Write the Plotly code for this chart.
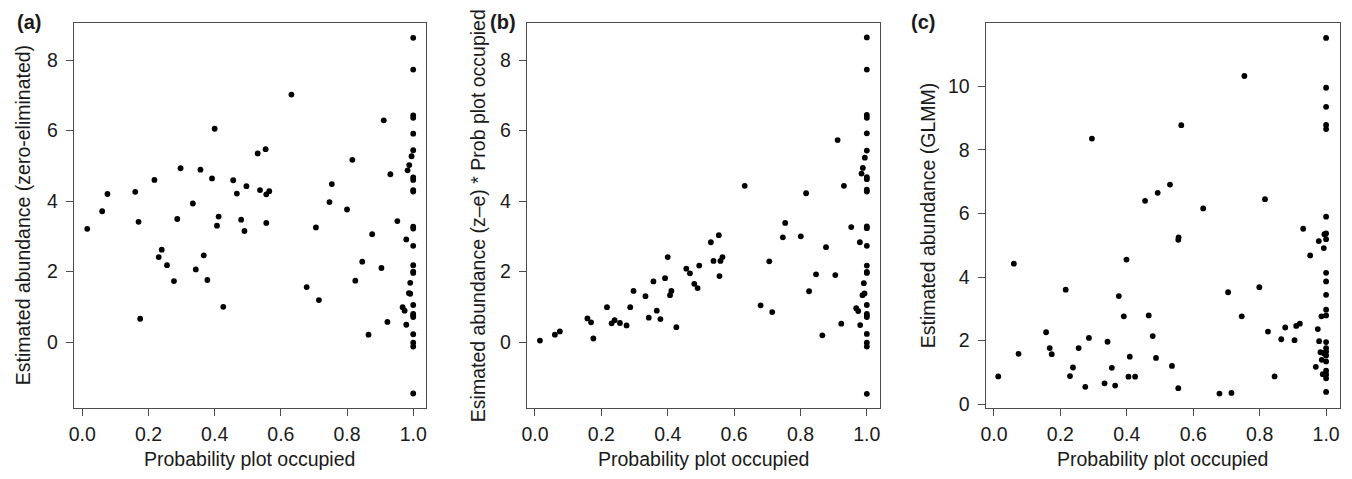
import plotly.graph_objects as go

W, H = 1352, 479

# ---------------- data ----------------
col_a = [8.63, 7.73, 6.43, 6.36, 5.91, 5.44, 4.67, 4.60, 4.31, 4.27, 3.27, 3.22,
         2.73, 2.18, 2.00, 1.96, 1.05, 0.80, 0.76, 0.71, 0.22, -0.02, -0.13, -1.46]
a_x = [0.015, 0.06, 0.076, 0.16, 0.17, 0.175, 0.218, 0.231, 0.24, 0.256, 0.277, 0.287,
       0.297, 0.334, 0.343, 0.357, 0.367, 0.378, 0.392, 0.40, 0.407, 0.412, 0.426, 0.456,
       0.467, 0.48, 0.49, 0.496, 0.53, 0.537, 0.554, 0.556, 0.556, 0.565, 0.632, 0.678,
       0.706, 0.715, 0.747, 0.754, 0.80, 0.816, 0.825, 0.846, 0.865, 0.876, 0.904, 0.911,
       0.922, 0.931, 0.952, 0.968, 0.974, 0.979, 0.979, 0.983, 0.988, 0.987, 0.991, 0.991,
       0.995] + [1.0] * len(col_a)
a_y = [3.21, 3.71, 4.20, 4.26, 3.41, 0.66, 4.60, 2.41, 2.62, 2.18, 1.73, 3.49,
       4.93, 3.93, 2.06, 4.89, 2.46, 1.76, 4.64, 6.05, 3.30, 3.56, 1.00, 4.59,
       4.21, 3.47, 3.15, 4.42, 5.35, 4.31, 5.47, 4.19, 3.38, 4.28, 7.02, 1.56,
       3.25, 1.19, 3.97, 4.48, 3.76, 5.17, 1.74, 2.28, 0.21, 3.06, 2.10, 6.29,
       0.57, 4.76, 3.43, 0.99, 0.89, 2.91, 0.49, 4.87, 5.02, 1.39, 1.68, 1.37,
       5.27] + col_a

col_b = [8.64, 7.73, 6.44, 6.36, 5.92, 5.43, 4.68, 4.62, 4.32, 4.27, 3.28, 3.23,
         2.73, 2.17, 1.99, 1.96, 1.05, 0.80, 0.75, 0.71, 0.23, -0.02, -0.13, -1.47]
b_x = [0.015, 0.06, 0.075, 0.158, 0.169, 0.176, 0.217, 0.231, 0.24, 0.256, 0.276, 0.287,
       0.297, 0.333, 0.343, 0.357, 0.367, 0.378, 0.392, 0.40, 0.407, 0.411, 0.426, 0.456,
       0.467, 0.48, 0.49, 0.495, 0.53, 0.538, 0.554, 0.556, 0.559, 0.565, 0.632, 0.68,
       0.706, 0.715, 0.747, 0.754, 0.801, 0.817, 0.826, 0.847, 0.866, 0.877, 0.905, 0.912,
       0.923, 0.931, 0.953, 0.968, 0.974, 0.979, 0.98, 0.984, 0.988, 0.987, 0.991, 0.993,
       0.994] + [1.0] * len(col_b)
b_y = [0.04, 0.21, 0.30, 0.67, 0.56, 0.10, 0.99, 0.53, 0.62, 0.54, 0.47, 0.99,
       1.45, 1.30, 0.69, 1.72, 0.89, 0.65, 1.81, 2.41, 1.33, 1.45, 0.42, 2.08,
       1.95, 1.65, 1.53, 2.17, 2.83, 2.30, 3.03, 1.87, 2.30, 2.41, 4.43, 1.04,
       2.29, 0.85, 2.97, 3.38, 3.00, 4.22, 1.44, 1.92, 0.19, 2.69, 1.90, 5.73,
       0.52, 4.43, 3.26, 0.96, 0.88, 2.83, 0.48, 4.78, 4.94, 1.33, 1.67, 1.38,
       5.23] + col_b

col_c = [11.53, 9.96, 9.36, 8.79, 8.66, 5.90, 5.37, 5.19, 4.13, 3.86, 3.44, 2.97,
         2.79, 1.95, 1.76, 1.65, 1.53, 1.34, 1.05, 0.93, 0.81, 0.38]
c_x = [0.013, 0.06, 0.074, 0.157, 0.168, 0.174, 0.216, 0.229, 0.238, 0.255, 0.275, 0.286,
       0.295, 0.333, 0.342, 0.355, 0.365, 0.376, 0.391, 0.399, 0.405, 0.409, 0.425, 0.455,
       0.466, 0.478, 0.488, 0.493, 0.53, 0.536, 0.555, 0.555, 0.556, 0.564, 0.63, 0.679,
       0.705, 0.715, 0.746, 0.754, 0.799, 0.816, 0.825, 0.845, 0.865, 0.877, 0.905, 0.91,
       0.921, 0.931, 0.952, 0.969, 0.975, 0.978, 0.979, 0.983, 0.986, 0.987, 0.99, 0.993,
       0.993, 0.995] + [1.0] * len(col_c)
c_y = [0.87, 4.42, 1.58, 2.26, 1.76, 1.57, 3.60, 0.88, 1.15, 1.76, 0.54, 2.08,
       8.36, 0.65, 1.96, 1.14, 0.58, 3.40, 2.76, 4.55, 0.86, 1.49, 0.86, 6.40,
       2.79, 2.14, 1.45, 6.65, 6.91, 1.20, 0.50, 5.17, 5.25, 8.78, 6.16, 0.33,
       3.52, 0.35, 2.76, 10.33, 3.68, 6.45, 2.28, 0.87, 2.04, 2.41, 2.01, 2.46,
       2.53, 5.52, 4.68, 1.17, 2.36, 5.13, 1.98, 1.63, 2.76, 1.39, 0.94, 4.91,
       1.60, 5.35] + col_c

x_ticks = [0.0, 0.2, 0.4, 0.6, 0.8, 1.0]
x_tick_labels = ["0.0", "0.2", "0.4", "0.6", "0.8", "1.0"]
y_ticks_ab = [0, 2, 4, 6, 8]
y_ticks_c = [0, 2, 4, 6, 8, 10]

panel_labels = ["(a)", "(b)", "(c)"]
x_title = "Probability plot occupied"
y_titles = ["Estimated abundance (zero-eliminated)",
            "Esimated abundance (z–e) * Prob plot occupied",
            "Estimated abundance (GLMM)"]

# ---------------- layout geometry (pixels) ----------------
boxes = [(69, 423), (524, 879), (985, 1341)]
box_top, box_bot = 23, 414
x_ranges = [[-0.026, 1.039], [-0.025, 1.040], [-0.025, 1.042]]
y_ranges = [[-1.87, 9.06], [-1.87, 9.06], [-0.124, 12.01]]
ytitle_x = [18, 475, 927]
label_x = [24, 500, 922]

FONT = "Liberation Sans, Arial, Helvetica, sans-serif"
TXT = "#1a1a1a"
LINE = "#4d4d4d"
FS = 19.5

fig = go.Figure()
datasets = [(a_x, a_y), (b_x, b_y), (c_x, c_y)]
for i, (xs, ys) in enumerate(datasets):
    sfx = "" if i == 0 else str(i + 1)
    fig.add_trace(go.Scatter(
        x=xs, y=ys, mode="markers",
        marker=dict(size=5.8, color="black", line=dict(width=0)),
        xaxis="x" + sfx, yaxis="y" + sfx, showlegend=False, hoverinfo="skip"))

    l, r = boxes[i]
    common = dict(showgrid=False, zeroline=False, showline=True, linecolor=LINE,
                  linewidth=1, mirror=True, ticks="outside", ticklen=7, tickwidth=1,
                  tickcolor=LINE, tickfont=dict(family=FONT, size=FS, color=TXT))
    fig.update_layout(**{
        "xaxis" + sfx: dict(domain=[l / W, r / W], range=x_ranges[i],
                            anchor="y" + sfx, tickvals=x_ticks, ticktext=x_tick_labels,
                            ticklabelstandoff=2, **common),
        "yaxis" + sfx: dict(domain=[1 - box_bot / H, 1 - box_top / H], range=y_ranges[i],
                            anchor="x" + sfx,
                            tickvals=y_ticks_c if i == 2 else y_ticks_ab,
                            ticklabelstandoff=4, **common),
    })

    # x axis title
    fig.add_annotation(x=(l + r) / 2 / W, y=1 - 466 / H, xref="paper", yref="paper",
                       text=x_title, showarrow=False,
                       font=dict(family=FONT, size=FS, color=TXT),
                       xanchor="center", yanchor="middle")
    # y axis title
    fig.add_annotation(x=ytitle_x[i] / W, y=1 - (box_top + box_bot) / 2 / H,
                       xref="paper", yref="paper", text=y_titles[i], textangle=-90,
                       showarrow=False, font=dict(family=FONT, size=FS, color=TXT),
                       xanchor="center", yanchor="middle")
    # panel label
    fig.add_annotation(x=label_x[i] / W, y=1 - 22 / H, xref="paper", yref="paper",
                       text="<b>" + panel_labels[i] + "</b>", showarrow=False,
                       font=dict(family=FONT, size=20, color=TXT),
                       xanchor="center", yanchor="middle")

fig.update_layout(width=W, height=H, margin=dict(l=0, r=0, t=0, b=0),
                  paper_bgcolor="white", plot_bgcolor="white")

fig.write_html("out.html", config={"displayModeBar": False},
               post_script="document.body.style.margin='0';"
                           "document.body.style.overflow='hidden';")
